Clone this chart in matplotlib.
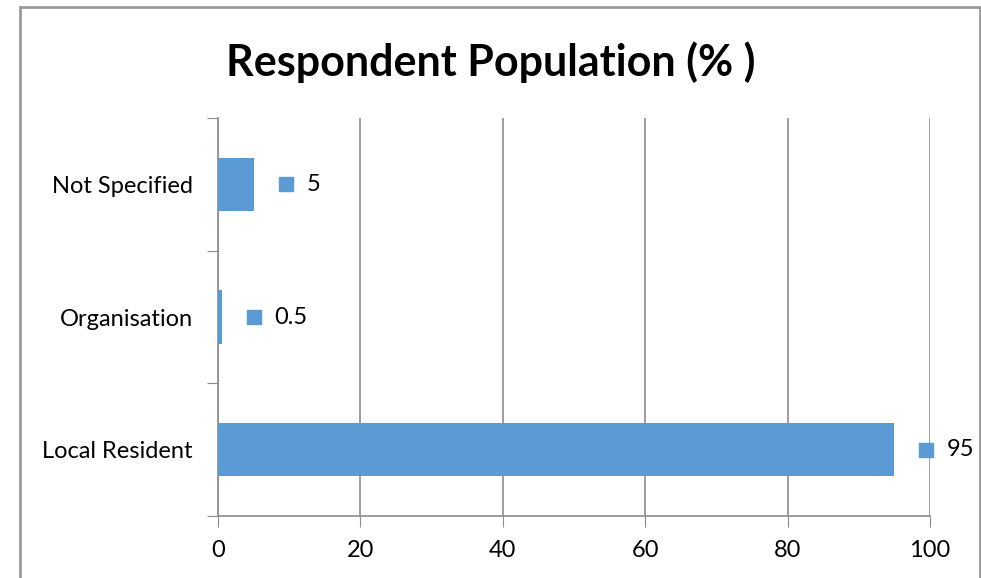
import matplotlib.pyplot as plt
import matplotlib.transforms as mtransforms
from matplotlib.patches import Rectangle

categories = ["Local Resident", "Organisation", "Not Specified"]
values = [95, 0.5, 5]
labels = ["95", "0.5", "5"]

plt.rcParams['font.family'] = ['Lato', 'DejaVu Sans']

fig = plt.figure(figsize=(9.81, 5.78), dpi=100)
ax = fig.add_axes([218/981, 1 - 516/578, 712/981, 398/578])

bar_color = "#5b9bd5"
grid_color = "#8c8c8c"
ax.barh(range(len(categories)), values, height=0.4, color=bar_color, zorder=3)

ax.set_xlim(0, 100)
ax.set_ylim(-0.5, 2.5)
ax.set_xticks(range(0, 101, 20))
ax.tick_params(axis='x', length=8, color=grid_color, labelsize=17, pad=9)
ax.xaxis.grid(True, color=grid_color, linewidth=1.2, zorder=0)

# category boundary ticks on the y-axis
ax.set_yticks([-0.5, 0.5, 1.5, 2.5])
ax.set_yticklabels([])
ax.set_yticks(range(len(categories)), minor=True)
ax.set_yticklabels(categories, minor=True, fontsize=17)
ax.tick_params(axis='y', which='major', length=8, color=grid_color)
ax.tick_params(axis='y', which='minor', length=0, pad=18)

for side in ("top", "right"):
    ax.spines[side].set_visible(False)
for side in ("left", "bottom"):
    ax.spines[side].set_color(grid_color)
    ax.spines[side].set_linewidth(1.2)

# data labels with a legend-key square in front
key_offset = ax.transData + mtransforms.ScaledTranslation(32/100, 0, fig.dpi_scale_trans)
ax.plot(values, range(len(values)), marker="s", markersize=10, color=bar_color,
        linestyle="none", transform=key_offset, clip_on=False, zorder=4)
for i, (v, lab) in enumerate(zip(values, labels)):
    ax.annotate(lab, xy=(v, i), xytext=(38, 0), textcoords="offset points",
                va="center", ha="left", fontsize=17, annotation_clip=False)

fig.text(0.5, 1 - 62/578, "Respondent Population (% )", ha="center", va="center",
         fontsize=31, fontweight="bold")

fig.patches.append(Rectangle((20/981, -0.1), 960/981, 1.1 - 7/578, transform=fig.transFigure,
                             fill=False, edgecolor="#999999", linewidth=2))

fig.savefig("out.png", dpi=100)
